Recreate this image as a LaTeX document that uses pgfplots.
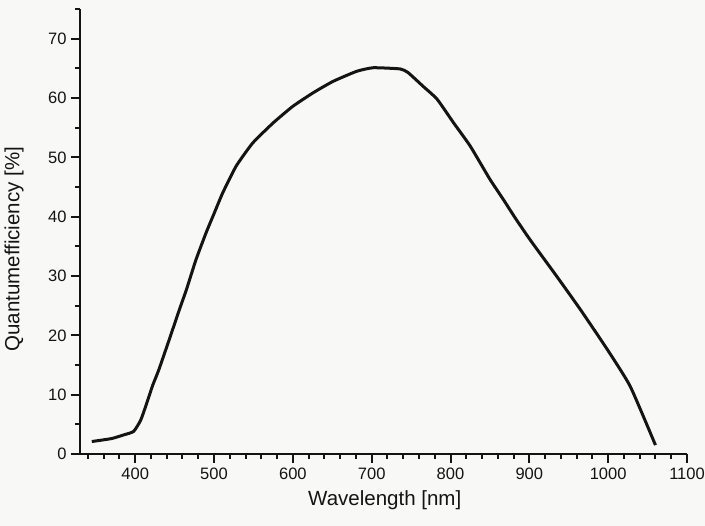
\documentclass[border=0pt]{standalone}
\usepackage{pgfplots}
\pgfplotsset{compat=1.18}
\usepackage{fontspec}
\setmainfont{Liberation Sans}
\definecolor{paper}{RGB}{248,248,246}
\definecolor{ink}{RGB}{20,20,20}
\begin{document}
\begin{tikzpicture}
\fill[paper] (-80pt,-72pt) rectangle (625pt,454pt);
\begin{axis}[
  at={(0pt,0pt)}, anchor=south west,
  scale only axis, width=607pt, height=445pt,
  xmin=330, xmax=1100, ymin=0, ymax=75,
  axis lines*=left,
  axis line style={ink, line width=2pt},
  xtick={400,500,...,1100},
  minor xtick={340,360,...,1080},
  ytick={0,10,...,70},
  minor ytick={5,15,...,75},
  tick align=outside,
  major tick length=9pt,
  minor tick length=5pt,
  tick style={ink, line width=2pt},
  major tick style={ink, line width=2pt},
  minor tick style={ink, line width=2pt},
  /pgf/number format/assume math mode=true,
  /pgf/number format/1000 sep={},
  ticklabel style={font=\fontsize{16.5}{19}\selectfont, text=ink},
  xticklabel style={yshift=-1pt},
  yticklabel style={xshift=-1pt},
  xlabel={Wavelength [nm]},
  ylabel={Quantumefficiency [\%]},
  label style={font=\fontsize{20.5}{24}\selectfont, text=ink},
  xlabel style={at={(axis description cs:0.502,0)}, anchor=center, yshift=-46pt},
  ylabel style={at={([xshift=-66pt]axis description cs:0,0.46)}, anchor=center, rotate=0},
  clip=false,
]
\addplot[ink, line width=3pt, smooth, tension=0.3] coordinates {
(345,2.1) (370,2.6) (385,3.2) (398,3.8) (407,5.7) (414,8.3) (422,11.5)
(430,14.2) (443,19.2) (456,24.3) (465,27.7) (477,32.7) (490,37.3)
(500,40.5) (511,44.0) (528,48.5) (549,52.4) (575,55.8) (600,58.6)
(626,60.9) (651,62.8) (681,64.5) (702,65.1) (736,64.9) (746,64.3)
(765,62.0) (783,59.8) (804,55.8) (825,51.9) (850,46.3) (867,42.9)
(882,39.8) (901,36.1) (935,29.9) (965,24.3) (999,17.6) (1028,11.4)
(1060,1.5)
};
\end{axis}
\pgfresetboundingbox
\path[use as bounding box] (-80pt,-72pt) rectangle (625pt,454pt);
\end{tikzpicture}
\end{document}
